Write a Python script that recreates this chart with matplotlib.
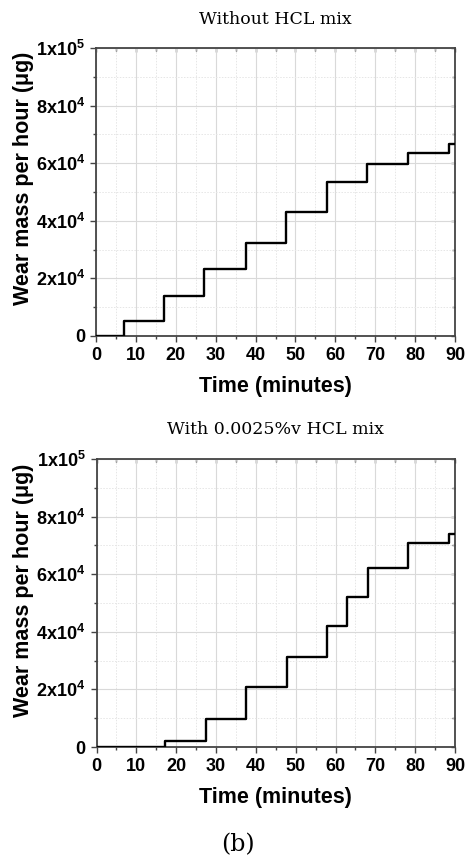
import matplotlib
matplotlib.use("Agg")
import matplotlib.pyplot as plt
from matplotlib.ticker import MultipleLocator, FixedLocator, FixedFormatter

plt.rcParams['font.family'] = ['Liberation Sans', 'DejaVu Sans']
plt.rcParams['mathtext.fontset'] = 'custom'
plt.rcParams['mathtext.rm'] = 'Liberation Sans:bold'
plt.rcParams['mathtext.bf'] = 'Liberation Sans:bold'
plt.rcParams['mathtext.it'] = 'Liberation Sans:bold'
plt.rcParams['mathtext.default'] = 'bf'

# Data
time_a = [0, 6.9, 17.1, 27.2, 37.6, 47.6, 57.8, 68.0, 78.2, 88.4, 90]
wear_a = [0, 5200, 13900, 23400, 32300, 43100, 53400, 59600, 63600, 66700, 66700]

time_b = [0, 17.3, 27.4, 37.6, 47.7, 57.8, 63.0, 68.1, 78.2, 88.5, 90]
wear_b = [0, 2100, 9700, 20800, 31400, 42000, 52000, 62200, 70800, 74100, 74100]

x_ticks = [0, 10, 20, 30, 40, 50, 60, 70, 80, 90]
y_ticks = [0, 20000, 40000, 60000, 80000, 100000]
y_tick_labels = ['0', r'$2x10^4$', r'$4x10^4$', r'$6x10^4$', r'$8x10^4$', r'$1x10^5$']

titles = ['Without HCL mix', 'With 0.0025%v HCL mix']
xlabel = 'Time (minutes)'
ylabel = 'Wear mass per hour (\u03bcg)'

fig = plt.figure(figsize=(4.65, 8.59), dpi=100)
W, H = 465, 859

def px_axes(l, t, r, b):
    return fig.add_axes([l / W, 1 - b / H, (r - l) / W, (b - t) / H])

axes_px = [(96, 48, 455, 336), (96.5, 459, 455, 747)]
datasets = [(time_a, wear_a), (time_b, wear_b)]
title_y = [20, 430]
xlabel_y = [387, 797]
ylabel_y = [178, 590]

for i, (box, (t, w)) in enumerate(zip(axes_px, datasets)):
    ax = px_axes(*box)
    ax.set_xlim(0, 90)
    ax.set_ylim(0, 100000)
    ax.xaxis.set_major_locator(FixedLocator(x_ticks))
    ax.xaxis.set_minor_locator(MultipleLocator(5))
    ax.yaxis.set_major_locator(FixedLocator(y_ticks))
    ax.yaxis.set_major_formatter(FixedFormatter(y_tick_labels))
    ax.yaxis.set_minor_locator(MultipleLocator(10000))
    ax.grid(which='major', color='#d9d9d9', lw=0.8, ls='-')
    ax.grid(which='minor', color='#e6e6e6', lw=0.7, ls=(0, (1.5, 1.5)))
    ax.set_axisbelow(True)
    ax.step(t, w, where='post', color='black', lw=1.7, zorder=3)
    for s in ax.spines.values():
        s.set_color('#444444')
        s.set_linewidth(1.3)
    ax.tick_params(which='both', direction='out', top=False, right=False,
                   color='#444444', width=1.0)
    ax.tick_params(which='major', length=4, labelsize=13, pad=4)
    ax.tick_params(which='minor', length=2.5)
    for lab in ax.get_xticklabels() + ax.get_yticklabels():
        lab.set_fontweight('bold')
    # inward ticks on top/right
    sec = ax.secondary_xaxis('top')
    sec.xaxis.set_major_locator(FixedLocator(x_ticks))
    sec.xaxis.set_minor_locator(MultipleLocator(5))
    sec.tick_params(which='both', direction='in', labeltop=False, color='#444444', width=1.0)
    sec.tick_params(which='major', length=3)
    sec.tick_params(which='minor', length=2.5)
    sec.spines['top'].set_visible(False)
    secy = ax.secondary_yaxis('right')
    secy.yaxis.set_major_locator(FixedLocator(y_ticks))
    secy.yaxis.set_minor_locator(MultipleLocator(10000))
    secy.tick_params(which='both', direction='in', labelright=False, color='#444444', width=1.0)
    secy.tick_params(which='major', length=3)
    secy.tick_params(which='minor', length=2.5)
    secy.spines['right'].set_visible(False)

    fig.text(0.5 * (box[0] + box[2]) / W, 1 - title_y[i] / H, titles[i],
             ha='center', va='center', fontsize=12.5, family='DejaVu Serif')
    fig.text((box[0] + box[2]) / 2 / W, 1 - xlabel_y[i] / H, xlabel,
             ha='center', va='center', fontsize=15.5, fontweight='bold')
    fig.text(23 / W, 1 - ylabel_y[i] / H, ylabel, rotation=90,
             ha='center', va='center', fontsize=15.5, fontweight='bold')

fig.text(238 / W, 1 - 845 / H, '(b)', ha='center', va='center', fontsize=17,
         family='DejaVu Serif')

fig.savefig('out.png', dpi=100, facecolor='white')
